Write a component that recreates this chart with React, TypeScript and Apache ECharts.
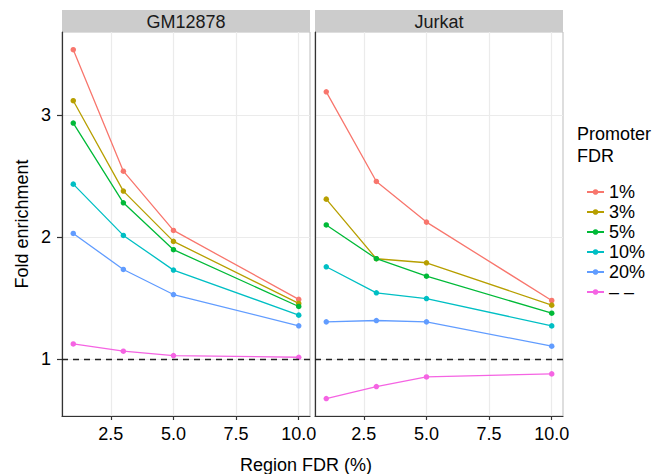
import React, { useEffect, useRef } from 'react';
import * as echarts from 'echarts';

const regionFDR = [1, 3, 5, 10];
const promoterFDR = ['1%', '3%', '5%', '10%', '20%', '– –'];
const palette = ['#F8766D', '#B79F00', '#00BA38', '#00BFC4', '#619CFF', '#F564E3'];
const panels = ['GM12878', 'Jurkat'];
const xTicks = [2.5, 5, 7.5, 10];
const yTicks = [1, 2, 3];

const gm1 = [3.535, 2.54, 2.055, 1.49];
const gm3 = [3.117, 2.377, 1.965, 1.457];
const gm5 = [2.934, 2.281, 1.897, 1.432];
const gm10 = [2.434, 2.014, 1.73, 1.361];
const gm20 = [2.03, 1.735, 1.53, 1.274];
const gmNone = [1.125, 1.066, 1.03, 1.016];

const jk1 = [3.19, 2.456, 2.123, 1.481];
const jk3 = [2.311, 1.823, 1.79, 1.443];
const jk5 = [2.1, 1.823, 1.68, 1.377];
const jk10 = [1.757, 1.544, 1.497, 1.273];
const jk20 = [1.306, 1.317, 1.306, 1.107];
const jkNone = [0.678, 0.776, 0.855, 0.88];

const panelData = [
  [gm1, gm3, gm5, gm10, gm20, gmNone],
  [jk1, jk3, jk5, jk10, jk20, jkNone],
];

const FONT = '"Liberation Sans", Arial, Helvetica, sans-serif';

export default function App() {
  const ref = useRef<HTMLDivElement>(null);
  useEffect(() => {
    if (!ref.current) return;
    const chart = echarts.init(ref.current, undefined, { renderer: 'svg' });
    const gridLefts = [62, 315];
    const gridW = 248;
    const gridTop = 32;
    const gridH = 384;

    const grids = gridLefts.map((l) => ({
      left: l,
      top: gridTop,
      width: gridW,
      height: gridH,
      show: true,
      borderColor: '#BDBDBD',
      borderWidth: 1,
      backgroundColor: '#FFFFFF',
    }));

    const xAxes = gridLefts.map((_, i) => ({
      type: 'value',
      gridIndex: i,
      min: 0.55,
      max: 10.45,
      axisLine: { show: true, onZero: false, lineStyle: { color: '#333333', width: 1.2 } },
      axisTick: { show: true, customValues: xTicks, length: 4, lineStyle: { color: '#333333', width: 1.2 } },
      axisLabel: {
        show: true,
        customValues: xTicks,
        formatter: (v: number) => v.toFixed(1),
        fontSize: 18,
        fontFamily: FONT,
        color: '#000000',
        margin: 9,
      },
      splitLine: { show: true, lineStyle: { color: '#EBEBEB', width: 1.2 } },
    }));

    const yAxes = gridLefts.map((_, i) => ({
      type: 'value',
      gridIndex: i,
      min: 0.535,
      max: 3.68,
      axisLine: { show: true, onZero: false, lineStyle: { color: '#333333', width: 1.2 } },
      axisTick: { show: i === 0, customValues: yTicks, length: 5, lineStyle: { color: '#333333', width: 1.2 } },
      axisLabel: {
        show: i === 0,
        customValues: yTicks,
        fontSize: 18,
        fontFamily: FONT,
        color: '#000000',
        margin: 11,
      },
      splitLine: { show: true, lineStyle: { color: '#EBEBEB', width: 1.2 } },
    }));

    const series: any[] = [];
    panelData.forEach((rows, p) => {
      rows.forEach((vals, k) => {
        series.push({
          type: 'line',
          name: promoterFDR[k],
          xAxisIndex: p,
          yAxisIndex: p,
          data: regionFDR.map((x, j) => [x, vals[j]]),
          symbol: 'circle',
          symbolSize: 5.5,
          showSymbol: true,
          itemStyle: { color: palette[k] },
          lineStyle: { color: palette[k], width: 1.3 },
          z: 3 + k,
          markLine:
            k === 0
              ? {
                  silent: true,
                  symbol: 'none',
                  label: { show: false },
                  lineStyle: { color: '#222222', type: [6, 5], width: 1.3 },
                  data: [{ yAxis: 1 }],
                  z: 20,
                }
              : undefined,
        });
      });
    });

    const graphics: any[] = [];
    panels.forEach((name, i) => {
      graphics.push({
        type: 'rect',
        shape: { x: gridLefts[i], y: 10, width: gridW, height: 22 },
        style: { fill: '#CCCCCC' },
      });
      graphics.push({
        type: 'text',
        x: gridLefts[i] + gridW / 2,
        y: 21.5,
        style: {
          text: name,
          align: 'center',
          verticalAlign: 'middle',
          fontSize: 18,
          fontFamily: FONT,
          fill: '#1A1A1A',
        },
      });
    });
    graphics.push({
      type: 'text',
      x: 306,
      y: 465,
      style: {
        text: 'Region FDR (%)',
        align: 'center',
        verticalAlign: 'middle',
        fontSize: 18,
        fontFamily: FONT,
        fill: '#000000',
      },
    });
    graphics.push({
      type: 'text',
      x: 22,
      y: 224,
      rotation: Math.PI / 2,
      style: {
        text: 'Fold enrichment',
        align: 'center',
        verticalAlign: 'middle',
        fontSize: 18,
        fontFamily: FONT,
        fill: '#000000',
      },
    });
    graphics.push({
      type: 'text',
      x: 577,
      y: 123,
      style: {
        text: 'Promoter\nFDR',
        align: 'left',
        verticalAlign: 'top',
        fontSize: 18,
        lineHeight: 22,
        fontFamily: FONT,
        fill: '#000000',
      },
    });

    chart.setOption({
      animation: false,
      backgroundColor: '#FFFFFF',
      grid: grids,
      xAxis: xAxes,
      yAxis: yAxes,
      legend: {
        data: promoterFDR,
        orient: 'vertical',
        left: 581,
        top: 178,
        itemWidth: 17,
        itemHeight: 7,
        itemGap: 2,
        selectedMode: false,
        textStyle: { fontSize: 18, fontFamily: FONT, color: '#000000', padding: [0, 0, 0, 0] },
      },
      graphic: graphics,
      series,
    });
    return () => chart.dispose();
  }, []);
  return (
    <div
      ref={ref}
      style={{ position: 'fixed', left: 0, top: 0, width: 654, height: 474 }}
    />
  );
}
